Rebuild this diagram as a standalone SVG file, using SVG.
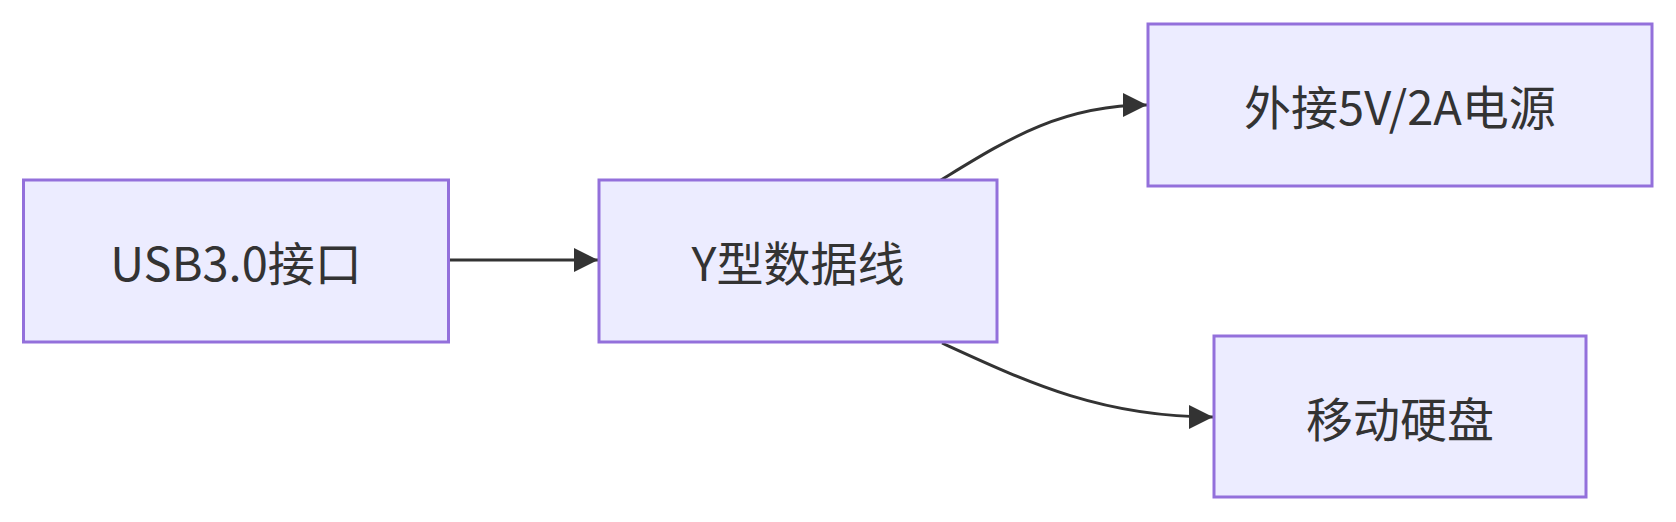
<svg xmlns="http://www.w3.org/2000/svg" width="1676" height="522" viewBox="0 0 1676 522">
<style>
.node rect{fill:#ECECFF;stroke:#9370DB;stroke-width:3}
.node text{font-family:"Noto Sans CJK SC","Noto Sans",sans-serif;font-size:47px;fill:#333333;text-anchor:middle;dominant-baseline:central}
.edge{fill:none;stroke:#333333;stroke-width:3}
</style>
<defs>
<marker id="arrow" viewBox="0 0 10 10" refX="10" refY="5" markerUnits="userSpaceOnUse" markerWidth="24" markerHeight="24" orient="auto">
<path d="M0,0 L10,5 L0,10 z" fill="#333333"/>
</marker>
</defs>
<rect width="1676" height="522" fill="#ffffff"/>
<g id="connectors">
<path class="edge" d="M449,260 L598,260" marker-end="url(#arrow)"/>
<path class="edge" d="M941,180 C1005,141 1060,105 1147,105" marker-end="url(#arrow)"/>
<path class="edge" d="M942,343 C1026,381.5 1100,417 1213,417" marker-end="url(#arrow)"/>
</g>
<g id="node-usb" class="node">
<rect x="23.5" y="180" width="425" height="162"/>
<text x="236" y="260">USB3.0接口</text>
</g>
<g id="node-ycable" class="node">
<rect x="599" y="180" width="398" height="162"/>
<text x="798" y="260">Y型数据线</text>
</g>
<g id="node-power" class="node">
<rect x="1148" y="24" width="504" height="162"/>
<text x="1400" y="104">外接5V/2A电源</text>
</g>
<g id="node-disk" class="node">
<rect x="1214" y="336" width="372" height="161"/>
<text x="1400" y="416">移动硬盘</text>
</g>
</svg>
